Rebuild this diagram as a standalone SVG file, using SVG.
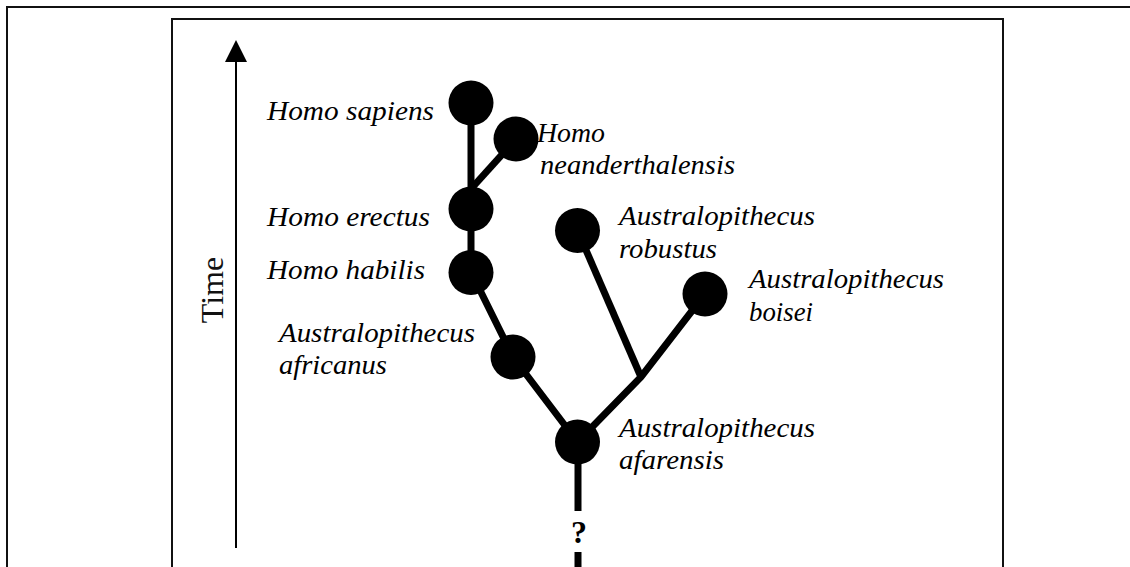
<svg xmlns="http://www.w3.org/2000/svg" width="1130" height="567" viewBox="0 0 1130 567">
<defs>
<style>
.frame{fill:none;stroke:#111;stroke-width:2}
.edge{fill:none;stroke:#000;stroke-width:7;stroke-linejoin:miter}
.node{fill:#000}
.lbl{font-family:"Liberation Serif","Times New Roman",serif;font-style:italic;font-size:27px;fill:#000}
.axis{stroke:#000;stroke-width:2}
</style>
</defs>
<rect width="1130" height="567" fill="#fff"/>
<rect class="frame" x="7" y="7" width="1140" height="600"/>
<rect class="frame" x="172" y="19" width="831" height="600"/>
<g id="time-axis">
<line class="axis" x1="236" y1="60" x2="236" y2="548"/>
<polygon points="236,40 225,62 247,62" fill="#000"/>
<text transform="translate(223,290) rotate(-90)" text-anchor="middle" font-family="Liberation Serif, serif" font-size="32" fill="#111">Time</text>
</g>
<g id="connectors">
<line class="edge" x1="471" y1="103" x2="471" y2="272"/>
<line class="edge" x1="470" y1="190" x2="516" y2="139"/>
<polyline class="edge" points="471,272 513,357 577.5,442"/>
<polyline class="edge" points="577.5,442 641,377 705,294"/>
<line class="edge" x1="577.5" y1="230.5" x2="641" y2="377"/>
<line class="edge" x1="578" y1="442" x2="578" y2="511"/>
<line class="edge" x1="578" y1="552" x2="578" y2="570"/>
<text x="579" y="543" text-anchor="middle" font-family="Liberation Serif, serif" font-weight="bold" font-size="32" fill="#000">?</text>
</g>
<g id="homo-sapiens">
<circle class="node" cx="471" cy="103" r="22.5"/>
<text class="lbl" x="267" y="120" textLength="167" lengthAdjust="spacingAndGlyphs">Homo sapiens</text>
</g>
<g id="homo-neanderthalensis">
<circle class="node" cx="516" cy="139" r="22.5"/>
<text class="lbl" x="537" y="142" textLength="68" lengthAdjust="spacingAndGlyphs">Homo</text>
<text class="lbl" x="540" y="174" textLength="195" lengthAdjust="spacingAndGlyphs">neanderthalensis</text>
</g>
<g id="homo-erectus">
<circle class="node" cx="471" cy="209" r="22.5"/>
<text class="lbl" x="267" y="226" textLength="163" lengthAdjust="spacingAndGlyphs">Homo erectus</text>
</g>
<g id="homo-habilis">
<circle class="node" cx="471" cy="272.5" r="22.5"/>
<text class="lbl" x="267" y="279" textLength="158" lengthAdjust="spacingAndGlyphs">Homo habilis</text>
</g>
<g id="australopithecus-africanus">
<circle class="node" cx="513" cy="357" r="22.5"/>
<text class="lbl" x="279" y="342" textLength="196" lengthAdjust="spacingAndGlyphs">Australopithecus</text>
<text class="lbl" x="279" y="374" textLength="108" lengthAdjust="spacingAndGlyphs">africanus</text>
</g>
<g id="australopithecus-robustus">
<circle class="node" cx="577.5" cy="230.5" r="22.5"/>
<text class="lbl" x="619" y="225" textLength="196" lengthAdjust="spacingAndGlyphs">Australopithecus</text>
<text class="lbl" x="619" y="258" textLength="98" lengthAdjust="spacingAndGlyphs">robustus</text>
</g>
<g id="australopithecus-boisei">
<circle class="node" cx="705" cy="294" r="22.5"/>
<text class="lbl" x="749" y="288" textLength="195" lengthAdjust="spacingAndGlyphs">Australopithecus</text>
<text class="lbl" x="749" y="321" textLength="64" lengthAdjust="spacingAndGlyphs">boisei</text>
</g>
<g id="australopithecus-afarensis">
<circle class="node" cx="577.5" cy="442" r="22.5"/>
<text class="lbl" x="619" y="437" textLength="196" lengthAdjust="spacingAndGlyphs">Australopithecus</text>
<text class="lbl" x="619" y="469" textLength="105" lengthAdjust="spacingAndGlyphs">afarensis</text>
</g>
</svg>
